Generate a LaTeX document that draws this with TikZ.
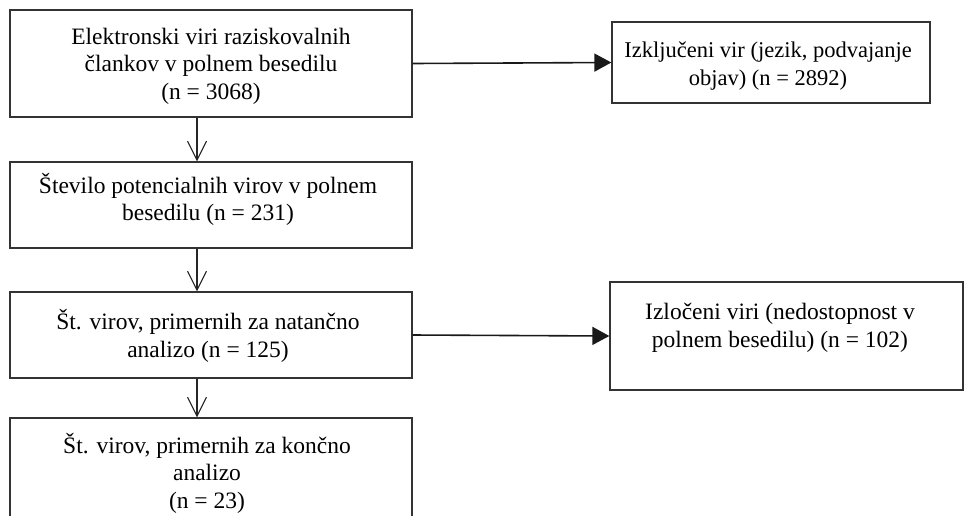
\documentclass[tikz,border=0pt]{standalone}
\usepackage{fontspec}
\setmainfont{Liberation Serif}
\usetikzlibrary{arrows.meta}
\begin{document}
\begin{tikzpicture}[x=1pt,y=-1pt,
  box/.style={draw=black!80, line width=1.3pt, rectangle, inner sep=0pt},
  txt/.style={align=center, inner sep=0pt, font=\fontsize{23.5}{27.5}\selectfont},
  smtxt/.style={align=center, inner sep=0pt, font=\fontsize{22.5}{28}\selectfont},
  harr/.style={draw=black!90, line width=1.6pt, -{Triangle[length=17pt,width=18pt]}},
  varr/.style={draw=black!85, line width=1.1pt, -{Straight Barb[length=19pt,width=19pt]}}]
\useasboundingbox (0,0) rectangle (966,515);
\clip (0,0) rectangle (966,515);
% boxes
\node[box, minimum width=402pt, minimum height=107pt] (A) at (211,63.5) {};
\node[box, minimum width=318pt, minimum height=81pt] (R1) at (771,62.5) {};
\node[box, minimum width=402pt, minimum height=86pt] (B) at (211,205) {};
\node[box, minimum width=402pt, minimum height=86pt] (C) at (211,335) {};
\node[box, minimum width=353pt, minimum height=108pt] (R2) at (786.5,336) {};
\node[box, minimum width=402pt, minimum height=130pt] (D) at (211,483) {};
% texts
\node[txt] (At) at (211,66) {Elektronski viri raziskovalnih\\ člankov v polnem besedilu\\ (n = 3068)};
\node[smtxt] (R1t) at (768,66) {Izključeni vir (jezik, podvajanje\\ objav) (n = 2892)};
\node[txt] (Bt) at (208,199.5) {Število potencialnih virov v polnem\\ besedilu (n = 231)};
\node[txt] (Ct) at (208,336) {Št. virov, primernih za natančno\\ analizo (n = 125)};
\node[txt] (R2t) at (780,328) {Izločeni viri (nedostopnost v\\ polnem besedilu) (n = 102)};
\node[txt] (Dt) at (207,473) {Št. virov, primernih za končno\\ analizo\\ (n = 23)};
% connectors
\coordinate (ax) at (197,0);
\draw[harr] (A.east) -- (R1.west);
\draw[harr] (C.east) -- (R2.west);
\draw[varr] (A.south -| ax) -- (B.north -| ax);
\draw[varr] (B.south -| ax) -- (C.north -| ax);
\draw[varr] (C.south -| ax) -- (D.north -| ax);
\end{tikzpicture}
\end{document}
